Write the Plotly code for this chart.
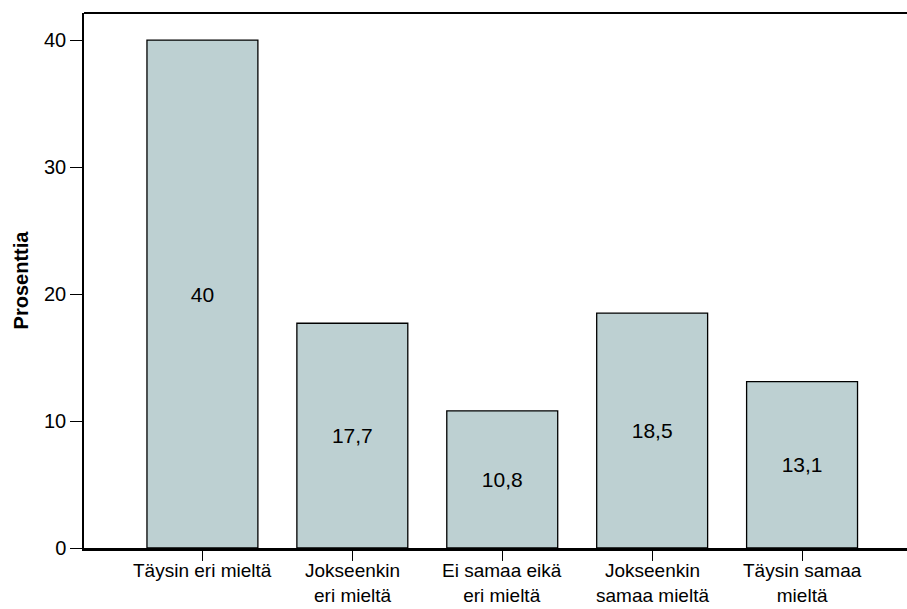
import plotly.graph_objects as go

category_lines = [["Täysin eri mieltä"], ["Jokseenkin", "eri mieltä"], ["Ei samaa eikä", "eri mieltä"],
                  ["Jokseenkin", "samaa mieltä"], ["Täysin samaa", "mieltä"]]
values = [40, 17.7, 10.8, 18.5, 13.1]
y_ticks = [0, 10, 20, 30, 40]

labels = [f"{v:g}".replace(".", ",") for v in values]
xs = list(range(len(category_lines)))

FONT = "Liberation Sans, Arial, Helvetica"

fig = go.Figure(go.Bar(
    x=xs, y=values, text=labels, textposition="inside", insidetextanchor="middle",
    textfont=dict(family=FONT, size=21, color="black"),
    marker=dict(color="#bdd0d2", line=dict(color="black", width=1.3)),
    width=0.74, cliponaxis=False,
))

annotations = [dict(x=i, xref="x", y=0, yref="y", text="<br>".join(lines), showarrow=False,
                    yanchor="top", xanchor="center", yshift=-10, align="center",
                    font=dict(family=FONT, size=19, color="black"))
               for i, lines in enumerate(category_lines)]

fig.update_layout(
    width=907, height=609,
    margin=dict(l=84, r=0, t=13, b=61, autoexpand=False),
    paper_bgcolor="white", plot_bgcolor="white",
    font=dict(family=FONT, size=20, color="black"),
    showlegend=False,
    annotations=annotations,
    xaxis=dict(range=[-0.79, 4.70], tickmode="array", tickvals=xs, showticklabels=False,
               ticks="outside", ticklen=10, tickwidth=1.3, tickcolor="black",
               showline=True, linecolor="black", linewidth=2.5, showgrid=False,
               zeroline=False, automargin=False),
    yaxis=dict(range=[0, 42.13], tickvals=y_ticks, ticks="outside", ticklen=12,
               tickwidth=1.3, tickcolor="black", showline=True, linecolor="black",
               linewidth=1.5, showgrid=False, zeroline=False, tickfont=dict(size=20),
               automargin=False,
               title=dict(text="<b>Prosenttia</b>", font=dict(size=20), standoff=10)),
    shapes=[dict(type="line", xref="paper", yref="paper", x0=0, x1=1, y0=1, y1=1,
                 line=dict(color="black", width=2))],
)

fig.write_html("out.html")
